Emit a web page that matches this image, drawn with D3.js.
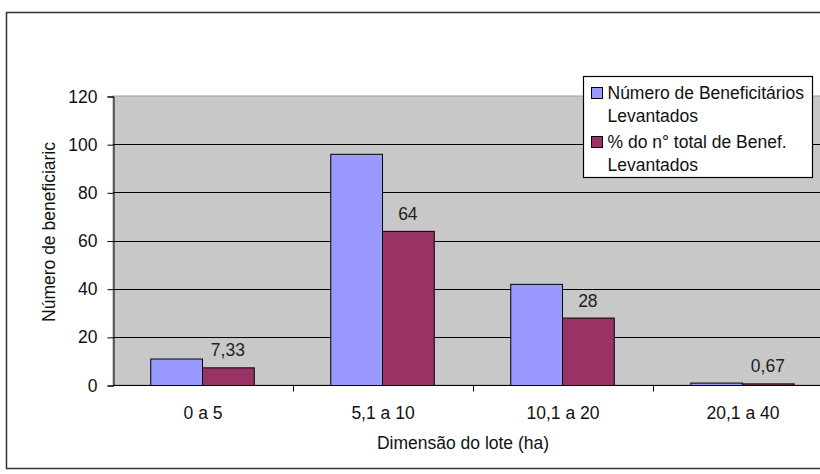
<!DOCTYPE html>
<html>
<head>
<meta charset="utf-8">
<script src="https://cdn.jsdelivr.net/npm/d3@7/dist/d3.min.js"></script>
<style>
  html, body { margin: 0; padding: 0; background: #fff; }
  svg { display: block; font-family: "Liberation Sans", Arial, sans-serif; }
</style>
</head>
<body>
<svg id="chart" width="820" height="474"></svg>
<script>
// Lot size classes and the two series per class
const categories = ["0 a 5", "5,1 a 10", "10,1 a 20", "20,1 a 40"];
const beneficiarios = [11, 96, 42, 1];
const percentual = [7.33, 64, 28, 0.67];
const percentualLabels = ["7,33", "64", "28", "0,67"];
const yTicks = [0, 20, 40, 60, 80, 100, 120];
const seriesNames = [
  ["Número de Beneficitários", "Levantados"],
  ["% do n° total de Benef.", "Levantados"]
];
const colors = ["#9999ff", "#993366"];

const FONT = 17.5;
const svg = d3.select("#chart");

// Outer chart frame
svg.append("rect")
  .attr("x", 6.5).attr("y", 12.5)
  .attr("width", 830).attr("height", 456)
  .attr("fill", "#fff")
  .attr("stroke", "#333").attr("stroke-width", 1.5);

const plot = { left: 113, right: 833, top: 96, bottom: 385 };

const x = d3.scaleBand()
  .domain(categories)
  .range([plot.left, plot.right]);

const y = d3.scaleLinear()
  .domain([0, 120])
  .range([plot.bottom, plot.top]);

const groupWidth = x.bandwidth() * 0.575;
const xs = d3.scaleBand()
  .domain([0, 1])
  .range([0, groupWidth]);

// Plot area background
svg.append("rect")
  .attr("x", plot.left).attr("y", plot.top)
  .attr("width", plot.right - plot.left).attr("height", plot.bottom - plot.top)
  .attr("fill", "#c8c8c8")
  .attr("stroke", "#9a9a9a").attr("stroke-width", 1);

// Horizontal gridlines
svg.append("g")
  .selectAll("line")
  .data(yTicks.filter(t => t > 0 && t < 120))
  .join("line")
  .attr("x1", plot.left).attr("x2", plot.right)
  .attr("y1", d => Math.round(y(d)) + 0.5).attr("y2", d => Math.round(y(d)) + 0.5)
  .attr("stroke", "#000").attr("stroke-width", 1.2);

// Bars
const data = categories.map((c, i) => ({ c, vals: [beneficiarios[i], percentual[i]] }));
const groups = svg.append("g")
  .selectAll("g")
  .data(data)
  .join("g")
  .attr("transform", d => `translate(${x(d.c) + (x.bandwidth() - groupWidth) / 2 - 1},0)`);

groups.selectAll("rect")
  .data(d => d.vals.map((v, k) => ({ v, k })))
  .join("rect")
  .attr("x", d => xs(d.k) + 0.5)
  .attr("y", d => y(d.v) + 0.5)
  .attr("width", xs.bandwidth())
  .attr("height", d => y(0) - y(d.v))
  .attr("fill", d => colors[d.k])
  .attr("stroke", "#000").attr("stroke-width", 1);

// Value labels above the percentage bars
groups.append("text")
  .attr("x", xs(1) + xs.bandwidth() / 2)
  .attr("y", (d, i) => y(percentual[i]) - 11)
  .attr("text-anchor", "middle")
  .attr("font-size", FONT)
  .attr("fill", "#222")
  .text((d, i) => percentualLabels[i]);

// Y axis
const yAxis = svg.append("g")
  .attr("transform", `translate(${plot.left + 0.5},0.5)`)
  .call(d3.axisLeft(y).tickValues(yTicks).tickSize(6).tickPadding(10).tickFormat(d3.format("d")));
yAxis.select(".domain").attr("stroke", "#000");
yAxis.selectAll("text").attr("font-size", FONT).attr("fill", "#111")
  .attr("font-family", "'Liberation Sans', Arial, sans-serif");

// X axis with ticks on category boundaries
const xAxisG = svg.append("g").attr("transform", `translate(0,${plot.bottom + 0.5})`);
xAxisG.append("line")
  .attr("x1", plot.left).attr("x2", plot.right)
  .attr("stroke", "#000");
xAxisG.selectAll("line.tick")
  .data(categories.slice(1))
  .join("line")
  .attr("class", "tick")
  .attr("x1", d => x(d) + 0.5).attr("x2", d => x(d) + 0.5)
  .attr("y1", 0).attr("y2", 6)
  .attr("stroke", "#000");
xAxisG.selectAll("text")
  .data(categories)
  .join("text")
  .attr("x", d => x(d) + x.bandwidth() / 2)
  .attr("y", 33)
  .attr("text-anchor", "middle")
  .attr("font-size", FONT)
  .attr("fill", "#111")
  .text(d => d);

// Axis titles
svg.append("text")
  .attr("x", 463).attr("y", 449)
  .attr("text-anchor", "middle")
  .attr("font-size", FONT).attr("fill", "#111")
  .text("Dimensão do lote (ha)");

svg.append("text")
  .attr("transform", "translate(55,232) rotate(-90)")
  .attr("text-anchor", "middle")
  .attr("font-size", FONT).attr("fill", "#111")
  .text("Número de beneficiaric");

// Legend
const legend = svg.append("g").attr("transform", "translate(583.5,76.5)");
legend.append("rect")
  .attr("width", 229).attr("height", 101)
  .attr("fill", "#fff").attr("stroke", "#000").attr("stroke-width", 1.2);
const entries = legend.selectAll("g")
  .data(seriesNames)
  .join("g")
  .attr("transform", (d, i) => `translate(0,${i * 49})`);
entries.append("rect")
  .attr("x", 8).attr("y", 11)
  .attr("width", 11).attr("height", 11)
  .attr("fill", (d, i) => colors[i])
  .attr("stroke", "#000");
entries.selectAll("text")
  .data(d => d)
  .join("text")
  .attr("x", 24)
  .attr("y", (d, j) => 22 + j * 23)
  .attr("font-size", FONT).attr("fill", "#111")
  .text(d => d);
</script>
</body>
</html>
